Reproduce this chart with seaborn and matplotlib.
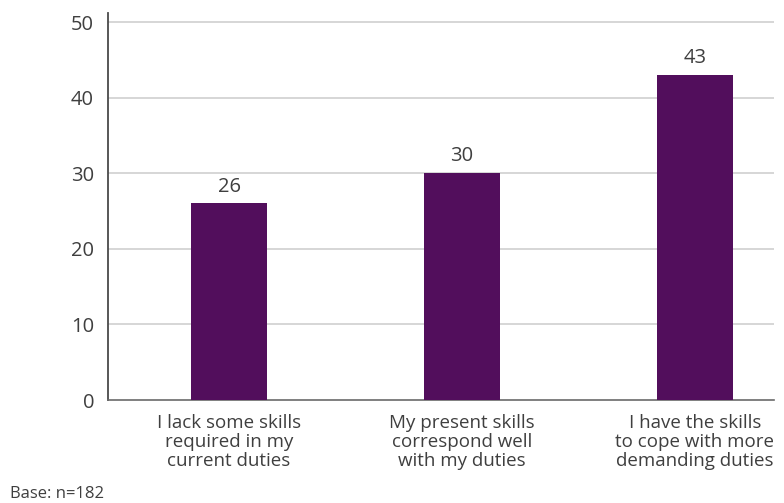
import matplotlib
matplotlib.use("Agg")
import matplotlib.pyplot as plt
import seaborn as sns
import pandas as pd

categories = [
    "I lack some skills\nrequired in my\ncurrent duties",
    "My present skills\ncorrespond well\nwith my duties",
    "I have the skills\nto cope with more\ndemanding duties",
]
values = [26, 30, 43]
y_ticks = [0, 10, 20, 30, 40, 50]
footnote = "Base: n=182"

sns.set_theme(style="white")
plt.rcParams["font.family"] = ["Open Sans", "DejaVu Sans"]

text_color = "#3f3f3f"
bar_color = "#520E5C"

df = pd.DataFrame({"category": categories, "value": values})

fig = plt.figure(figsize=(7.84, 5.03), dpi=100)
ax = fig.add_axes([108 / 784, 1 - 400 / 503, (774 - 108) / 784, (400 - 13) / 503])

sns.barplot(data=df, x="category", y="value", color=bar_color, width=0.326,
            saturation=1, linewidth=0, ax=ax, zorder=3)

ax.set_xlim(-0.52, 2.34)
ax.set_ylim(0, 51.2)
ax.set_yticks(y_ticks)
for t in y_ticks[1:]:
    ax.axhline(t, color="#d0d0d0", lw=1.2, zorder=1)

ax.set_xlabel("")
ax.set_ylabel("")
ax.tick_params(axis="y", labelsize=14.5, colors=text_color, length=0, pad=10)
ax.tick_params(axis="x", labelsize=13.5, colors=text_color, length=0, pad=10)
for lbl in ax.get_xticklabels():
    lbl.set_linespacing(1.08)

for side in ["top", "right"]:
    ax.spines[side].set_visible(False)
ax.spines["left"].set_color("#4a4a4a")
ax.spines["left"].set_linewidth(1.3)
ax.spines["bottom"].set_color("#6a6a6a")
ax.spines["bottom"].set_linewidth(1.2)

for i, v in enumerate(values):
    ax.text(i, v + 0.9, f"{v}", ha="center", va="bottom", fontsize=14.5,
            color=text_color)

fig.text(10 / 784, 1 - 494 / 503, footnote, ha="left", va="center",
         fontsize=12, color=text_color)

fig.savefig("out.png", dpi=100)
